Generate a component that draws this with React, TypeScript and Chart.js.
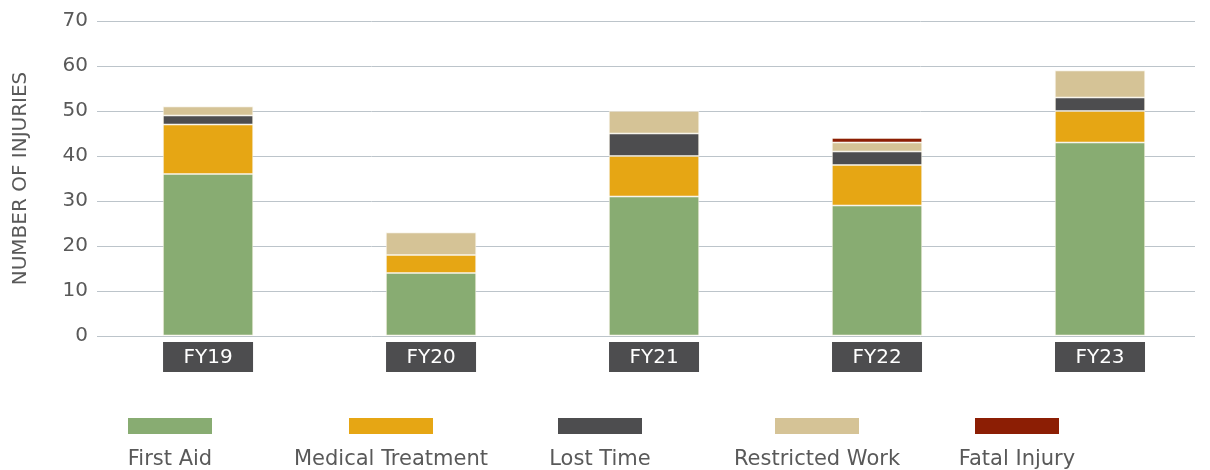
import React, { useEffect, useRef } from 'react';
import { Chart, registerables } from 'chart.js';

Chart.register(...registerables);

const categories = ['FY19', 'FY20', 'FY21', 'FY22', 'FY23'];
const firstAid = [36, 14, 31, 29, 43];
const medicalTreatment = [11, 4, 9, 9, 7];
const lostTime = [2, 0, 5, 3, 3];
const restrictedWork = [2, 5, 5, 2, 6];
const fatalInjury = [0, 0, 0, 1, 0];
const yTicks = [0, 10, 20, 30, 40, 50, 60, 70];

const seriesNames = ['First Aid', 'Medical Treatment', 'Lost Time', 'Restricted Work', 'Fatal Injury'];
const seriesValues = [firstAid, medicalTreatment, lostTime, restrictedWork, fatalInjury];
const seriesColors = ['#88ac72', '#e6a614', '#4d4d4f', '#d5c396', '#8c1e04'];

const legendCenters = [170, 391, 600, 817, 1017];
const FONT = '"DejaVu Sans", sans-serif';
const TEXT = '#595959';

const categoryBoxes = {
  id: 'categoryBoxes',
  afterDraw(chart: any) {
    const x = chart.scales.x;
    const ctx = chart.ctx;
    ctx.save();
    categories.forEach((label, i) => {
      const cx = x.getPixelForValue(i);
      ctx.fillStyle = '#4d4d4f';
      ctx.fillRect(cx - 45, 342, 90, 30);
      ctx.fillStyle = '#ffffff';
      ctx.font = `20px ${FONT}`;
      ctx.textAlign = 'center';
      ctx.textBaseline = 'middle';
      ctx.fillText(label, cx, 358);
    });
    ctx.restore();
  },
};

export default function App() {
  const ref = useRef<HTMLCanvasElement>(null);
  useEffect(() => {
    if (!ref.current) return;
    const chart = new Chart(ref.current, {
      type: 'bar',
      data: {
        datasets: seriesNames.map((name, s) => ({
          label: name,
          data: seriesValues[s].map((v, i) => ({ x: i, y: v })),
          backgroundColor: seriesColors[s],
          borderColor: 'rgba(245,240,225,0.7)',
          borderWidth: 1,
          borderSkipped: false,
          barThickness: 90,
        })),
      },
      options: {
        animation: false,
        responsive: false,
        maintainAspectRatio: false,
        layout: { padding: { top: 20, right: 15, left: 0, bottom: 0 } },
        plugins: { legend: { display: false }, tooltip: { enabled: false } },
        scales: {
          x: {
            type: 'linear',
            stacked: true,
            offset: false,
            min: -0.498,
            max: 4.426,
            grid: { display: false },
            border: { display: false },
            ticks: { display: false },
            afterBuildTicks: (scale: any) => {
              scale.ticks = categories.map((_, i) => ({ value: i }));
            },
            afterFit: (scale: any) => {
              scale.height = 134;
            },
          },
          y: {
            stacked: true,
            min: 0,
            max: 70,
            afterBuildTicks: (scale: any) => {
              scale.ticks = yTicks.map((v) => ({ value: v }));
            },
            afterFit: (scale: any) => {
              scale.width = 97;
            },
            grid: { color: '#bcc4ca', lineWidth: 1, drawTicks: false },
            border: { display: false },
            ticks: { color: TEXT, font: { family: FONT, size: 20 }, padding: 9 },
            title: {
              display: true,
              text: 'NUMBER OF INJURIES',
              color: TEXT,
              font: { family: FONT, size: 20 },
              padding: { top: 9, bottom: 0 },
            },
          },
        },
      },
      plugins: [categoryBoxes],
    } as any);
    return () => chart.destroy();
  }, []);

  return (
    <div style={{ position: 'fixed', left: 0, top: 0, width: 1210, height: 470, background: '#fff' }}>
      <canvas ref={ref} width={1210} height={470} style={{ position: 'absolute', left: 0, top: 0 }} />
      {seriesNames.map((name, i) => (
        <div key={name}>
          <div
            style={{
              position: 'absolute',
              left: legendCenters[i] - 42,
              top: 418,
              width: 84,
              height: 16,
              background: seriesColors[i],
            }}
          />
          <div
            style={{
              position: 'absolute',
              left: legendCenters[i] - 150,
              width: 300,
              top: 445,
              textAlign: 'center',
              fontFamily: FONT,
              fontSize: 21,
              lineHeight: '26px',
              color: TEXT,
            }}
          >
            {name}
          </div>
        </div>
      ))}
    </div>
  );
}
